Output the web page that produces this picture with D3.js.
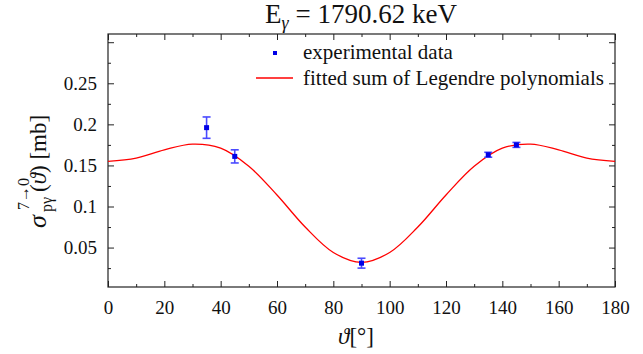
<!DOCTYPE html>
<html>
<head>
<meta charset="utf-8">
<script src="https://cdn.jsdelivr.net/npm/d3@7/dist/d3.min.js"></script>
<style>
  body { margin: 0; background: #fff; }
</style>
</head>
<body>
<svg id="chart" width="643" height="354"></svg>
<script>
// measured points: angle [deg], cross section [mb], error [mb]
const angles = [35, 45, 90, 135, 145];
const sigma = [0.196, 0.161, 0.031, 0.163, 0.175];
const sigmaErr = [0.013, 0.008, 0.006, 0.003, 0.003];

// fitted curve, every 10 deg
const fitAngles = [0, 10, 20, 30, 40, 50, 60, 70, 80, 90, 100, 110, 120, 130, 140, 150, 160, 170, 180];
const fitSigma = [0.155, 0.159, 0.169, 0.176, 0.171, 0.149, 0.114, 0.075, 0.044, 0.032,
                  0.044, 0.075, 0.114, 0.149, 0.171, 0.176, 0.169, 0.159, 0.155];

const xMajor = [0, 20, 40, 60, 80, 100, 120, 140, 160, 180];
const xMinor = [10, 30, 50, 70, 90, 110, 130, 150, 170];
const yMajor = [0.05, 0.1, 0.15, 0.2, 0.25, 0.3];
const yMinor = [0.025, 0.075, 0.125, 0.175, 0.225, 0.275];
const yLabels = ["0.05", "0.1", "0.15", "0.2", "0.25", ""];

const serif = "Liberation Serif";

const margin = {top: 34, right: 28, bottom: 67, left: 108};
const width = 643 - margin.left - margin.right;
const height = 354 - margin.top - margin.bottom;

const svg = d3.select("#chart").style("font-family", serif);
const g = svg.append("g")
    .attr("transform", "translate(" + margin.left + "," + margin.top + ")");

const x = d3.scaleLinear().domain([0, 180]).range([0, width]);
const y = d3.scaleLinear().domain([0.002, 0.31]).range([height, 0]);

function styleAxis(sel) {
  sel.select(".domain").remove();
  sel.attr("font-family", serif);
  sel.selectAll("line").attr("stroke", "#222");
  sel.selectAll("text").style("font-size", "19px");
}

// bottom axis with labels
g.append("g")
    .attr("transform", "translate(0," + height + ")")
    .call(d3.axisBottom(x).tickValues(xMajor).tickSizeInner(-6).tickPadding(14).tickFormat(d3.format("d")))
    .call(styleAxis);
g.append("g")
    .attr("transform", "translate(0," + height + ")")
    .call(d3.axisBottom(x).tickValues(xMinor).tickSizeInner(-3).tickFormat(""))
    .call(styleAxis);
// top axis
g.append("g")
    .call(d3.axisTop(x).tickValues(xMajor).tickSizeInner(-6).tickFormat(""))
    .call(styleAxis);
g.append("g")
    .call(d3.axisTop(x).tickValues(xMinor).tickSizeInner(-3).tickFormat(""))
    .call(styleAxis);

// left axis with labels
g.append("g")
    .call(d3.axisLeft(y).tickValues(yMajor).tickSizeInner(-6).tickPadding(11)
      .tickFormat((d, i) => yLabels[i]))
    .call(styleAxis);
g.append("g")
    .call(d3.axisLeft(y).tickValues(yMinor).tickSizeInner(-3).tickFormat(""))
    .call(styleAxis);
// right axis
g.append("g")
    .attr("transform", "translate(" + width + ",0)")
    .call(d3.axisRight(y).tickValues(yMajor).tickSizeInner(-6).tickFormat(""))
    .call(styleAxis);
g.append("g")
    .attr("transform", "translate(" + width + ",0)")
    .call(d3.axisRight(y).tickValues(yMinor).tickSizeInner(-3).tickFormat(""))
    .call(styleAxis);

// frame
g.append("rect")
    .attr("width", width)
    .attr("height", height)
    .attr("fill", "none")
    .attr("stroke", "#222")
    .attr("stroke-width", 1.2);

// fitted curve
const line = d3.line()
    .x((d, i) => x(fitAngles[i]))
    .y(d => y(d))
    .curve(d3.curveCatmullRom);

g.append("path")
    .datum(fitSigma)
    .attr("fill", "none")
    .attr("stroke", "#ff0000")
    .attr("stroke-width", 1.3)
    .attr("d", line);

// error bars
const pts = g.append("g");
angles.forEach((a, i) => {
  const cx = x(a);
  const y0 = y(sigma[i] - sigmaErr[i]);
  const y1 = y(sigma[i] + sigmaErr[i]);
  pts.append("line")
      .attr("x1", cx).attr("x2", cx).attr("y1", y0).attr("y2", y1)
      .attr("stroke", "#4a4aff").attr("stroke-width", 1.6);
  [y0, y1].forEach(yy => {
    pts.append("line")
        .attr("x1", cx - 4).attr("x2", cx + 4).attr("y1", yy).attr("y2", yy)
        .attr("stroke", "#4a4aff").attr("stroke-width", 1.6);
  });
  pts.append("rect")
      .attr("x", cx - 2.5).attr("y", y(sigma[i]) - 2.5)
      .attr("width", 5).attr("height", 5)
      .attr("fill", "#0000e6");
});

// legend
svg.append("rect")
    .attr("x", 273).attr("y", 51).attr("width", 4).attr("height", 4)
    .attr("fill", "#0000e6");
svg.append("text")
    .attr("x", 303).attr("y", 59)
    .style("font-size", "21px")
    .text("experimental data");
svg.append("line")
    .attr("x1", 256).attr("x2", 293).attr("y1", 78).attr("y2", 78)
    .attr("stroke", "#ff0000").attr("stroke-width", 1.3);
svg.append("text")
    .attr("x", 303).attr("y", 85)
    .style("font-size", "21px")
    .text("fitted sum of Legendre polynomials");

// title
const title = svg.append("text")
    .attr("x", 361).attr("y", 23)
    .attr("text-anchor", "middle")
    .style("font-size", "27px");
title.append("tspan").text("E");
title.append("tspan").attr("dy", 6).style("font-size", "18px").style("font-style", "italic").text("γ");
title.append("tspan").attr("dy", -6).text(" = 1790.62 keV");

// x axis title
const xt = svg.append("text")
    .attr("x", 356).attr("y", 344)
    .attr("text-anchor", "middle")
    .style("font-size", "23px");
xt.append("tspan").style("font-style", "italic").text("ϑ");
xt.append("tspan").text("[°]");

// y axis title
const yt = svg.append("g").attr("transform", "translate(46,228) rotate(-90)");
yt.append("text").attr("x", 0).attr("y", 0)
    .style("font-size", "26px").style("font-style", "italic").text("σ");
yt.append("text").attr("x", 16).attr("y", 6)
    .style("font-size", "16px").text("pγ");
yt.append("text").attr("x", 18).attr("y", -17)
    .style("font-size", "16px").text("7→0");
const yt2 = yt.append("text").attr("x", 36).attr("y", 0).style("font-size", "23px");
yt2.append("tspan").text("(");
yt2.append("tspan").style("font-style", "italic").text("ϑ");
yt2.append("tspan").text(") [mb]");

svg.selectAll("text").style("font-family", serif).style("fill", "#111");
</script>
</body>
</html>
